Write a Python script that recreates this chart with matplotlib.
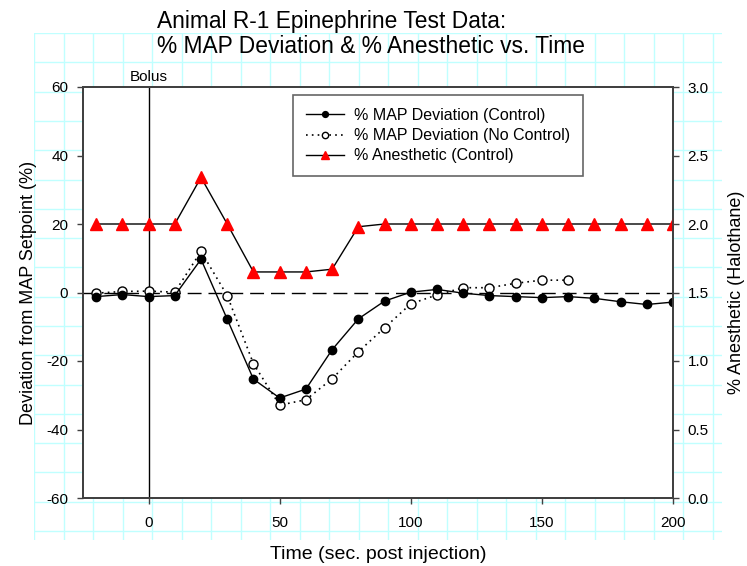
import numpy as np
import matplotlib
matplotlib.use('Agg')
import matplotlib.pyplot as plt

plt.rcParams['font.family'] = ['Liberation Sans', 'DejaVu Sans']
plt.rcParams['axes.unicode_minus'] = False

# time points (sec. post injection)
t_ctrl = [-20, -10, 0, 10, 20, 30, 40, 50, 60, 70, 80, 90, 100, 110,
          120, 130, 140, 150, 160, 170, 180, 190, 200]
map_ctrl = [-1.2, -0.6, -1.2, -0.9, 9.7, -7.8, -25.3, -30.8, -28.2, -16.7,
            -7.7, -2.5, 0.1, 0.9, -0.2, -0.9, -1.2, -1.5, -1.2, -1.7,
            -2.7, -3.5, -2.8]

t_noctrl = [-20, -10, 0, 10, 20, 30, 40, 50, 60, 70, 80, 90, 100, 110,
            120, 130, 140, 150, 160]
map_noctrl = [-0.2, 0.3, 0.4, 0.1, 12.0, -0.9, -20.8, -32.9, -31.3, -25.2,
              -17.3, -10.3, -3.3, -0.7, 1.4, 1.4, 2.7, 3.6, 3.6]

anest = [2.0, 2.0, 2.0, 2.0, 2.34, 2.0, 1.65, 1.65, 1.65, 1.67,
         1.98, 2.0, 2.0, 2.0, 2.0, 2.0, 2.0, 2.0, 2.0, 2.0, 2.0, 2.0, 2.0]

W, H = 747, 566
fig = plt.figure(figsize=(W / 100, H / 100), dpi=100)

# graph-paper background
bg = fig.add_axes([34 / W, (H - 540) / H, (722 - 34) / W, (540 - 33) / H])
bg.set_xlim(34, 722)
bg.set_ylim(540, 33)
bg.axis('off')
for gx in np.arange(34, 722, 29.5):
    bg.axvline(gx, color='#c0ffff', lw=1.0)
for gy in np.arange(33, 540, 29.3):
    bg.axhline(gy, color='#c0ffff', lw=1.0)

ax = fig.add_axes([83 / W, (H - 498) / H, (673 - 83) / W, (498 - 87) / H])
ax.set_zorder(2)
ax.set_facecolor('white')
ax.set_xlim(-25, 200)
ax.set_ylim(-60, 60)
ax.set_xticks([0, 50, 100, 150, 200])
ax.set_yticks([-60, -40, -20, 0, 20, 40, 60])

ax.axvline(0, color='black', lw=1.0, zorder=1)
ax.axhline(0, color='black', lw=1.0, dashes=(10, 5), zorder=1)

ax2 = ax.twinx()
ax2.set_ylim(0, 3.0)
ax2.set_yticks([0, 0.5, 1.0, 1.5, 2.0, 2.5, 3.0])
ax2.set_yticklabels(['0.0', '0.5', '1.0', '1.5', '2.0', '2.5', '3.0'])

l1, = ax.plot(t_ctrl, map_ctrl, color='black', lw=1.0, marker='o',
              markersize=6, markerfacecolor='black', markeredgecolor='black',
              label='% MAP Deviation (Control)', zorder=4)
l2, = ax.plot(t_noctrl, map_noctrl, color='black', lw=1.2, ls=(0, (1, 2.5)),
              marker='o', markersize=6.5, markerfacecolor='white',
              markeredgecolor='black', markeredgewidth=1.0,
              label='% MAP Deviation (No Control)', zorder=3)
l3, = ax2.plot(t_ctrl, anest, color='black', lw=1.0, marker='^',
               markersize=8, markerfacecolor='red', markeredgecolor='red',
               label='% Anesthetic (Control)')

for a in (ax, ax2):
    for s in a.spines.values():
        s.set_color('#404040')
        s.set_linewidth(1.3)
    a.tick_params(direction='out', length=4.3, width=1.0, colors='#404040',
                  labelcolor='black', labelsize=11, pad=6.3)
ax.tick_params(axis='x', pad=8.5)

ax.text(0, 61.75, 'Bolus', ha='center', va='baseline', fontsize=11)

leg = ax.legend(handles=[l1, l2, l3], loc='upper left',
                bbox_to_anchor=(0.356, 0.98), fontsize=11.5,
                frameon=True, fancybox=False, borderpad=0.8,
                handlelength=2.4, handletextpad=0.6, labelspacing=0.32,
                markerscale=0.7, borderaxespad=0)
leg.get_frame().set_edgecolor('#404040')
leg.get_frame().set_linewidth(1.2)

ax.set_xlabel('Time (sec. post injection)', fontsize=14, labelpad=12)
ax.set_ylabel('Deviation from MAP Setpoint (%)', fontsize=13, labelpad=7)
ax2.set_ylabel('% Anesthetic (Halothane)', fontsize=13, labelpad=14)

fig.text(157 / W, 1 - 27.7 / H, 'Animal R-1 Epinephrine Test Data:',
         ha='left', va='baseline', fontsize=16.4)
fig.text(157 / W, 1 - 53.3 / H, '% MAP Deviation & % Anesthetic vs. Time',
         ha='left', va='baseline', fontsize=16.4)

fig.savefig('out.png', dpi=100)
